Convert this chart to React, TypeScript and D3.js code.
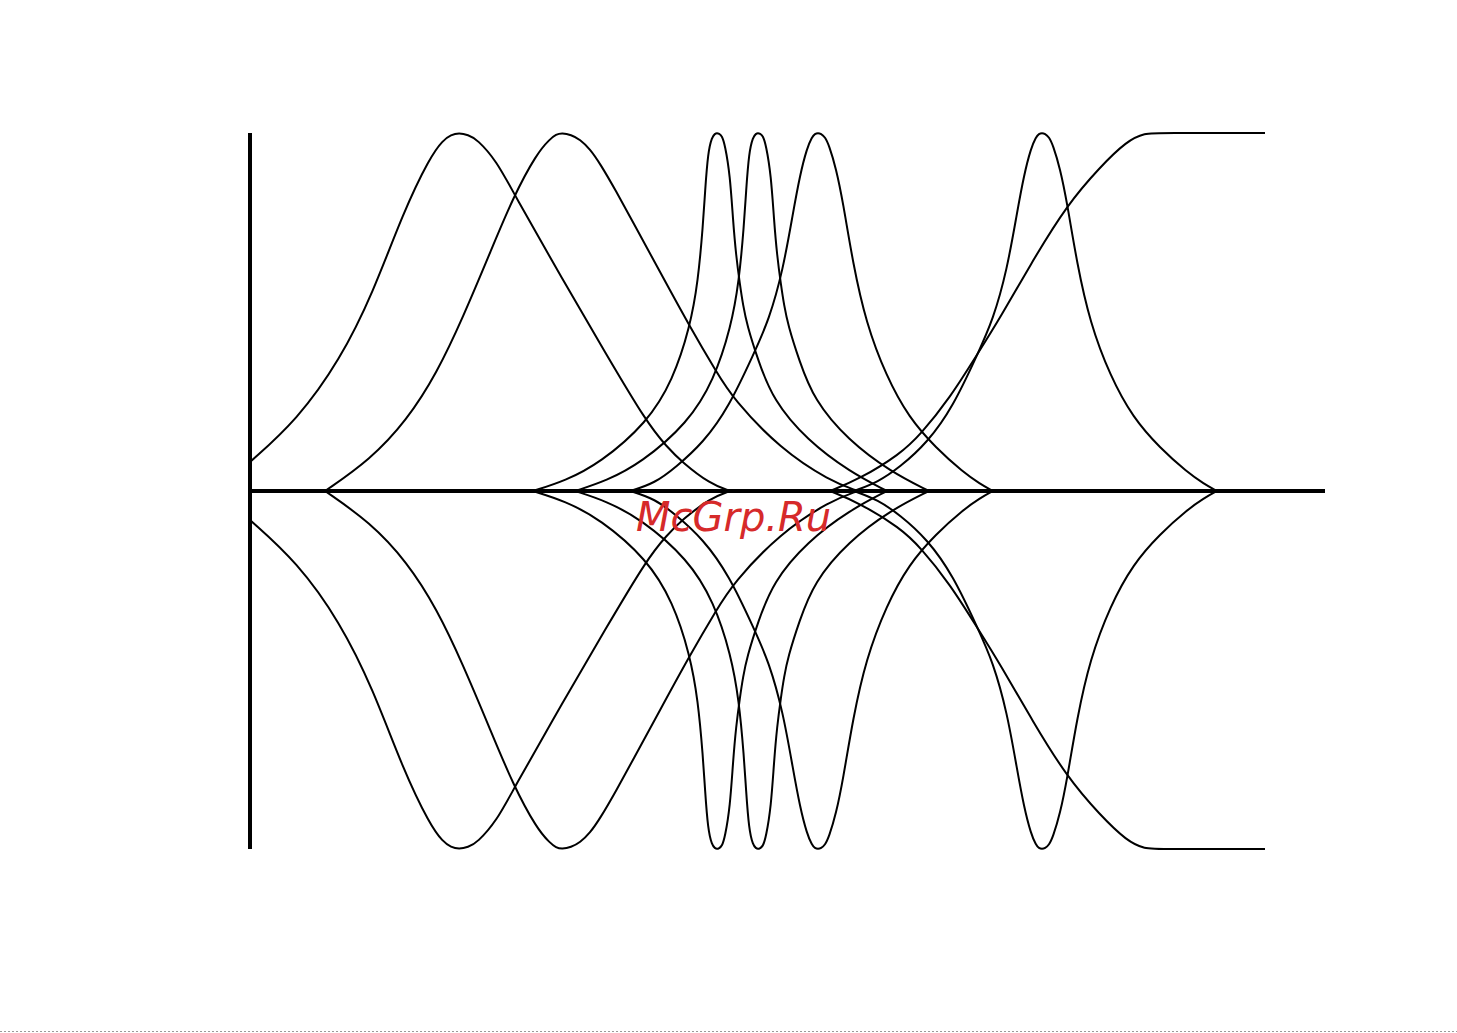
import React from "react";
import * as d3 from "d3";

// x: position along the axis, y: membership degree (0..1); lower half is the mirror image
const curveA: [number, number][] = [
  [0, 0.081], [47, 0.198], [90, 0.366], [123, 0.553], [153, 0.777], [180, 0.933], [193, 0.98],
  [201, 0.995], [209, 1], [218, 0.995], [227, 0.983], [247, 0.92], [263, 0.835], [313, 0.589],
  [355, 0.388], [397, 0.19], [417, 0.123], [432, 0.081], [460, 0.02], [480, 0],
];
const curveB: [number, number][] = [
  [75, 0], [120, 0.087], [157, 0.198], [187, 0.33], [213, 0.485], [240, 0.665], [263, 0.82],
  [287, 0.944], [300, 0.983], [306, 0.996], [312, 1], [321, 0.995], [330, 0.982], [340, 0.955],
  [350, 0.915], [366, 0.838], [383, 0.751], [410, 0.612], [440, 0.458], [467, 0.33], [483, 0.258],
  [530, 0.118], [580, 0.028], [608, 0],
];
const curveC: [number, number][] = [
  [283, 0], [315, 0.028], [350, 0.078], [397, 0.19], [423, 0.31], [440, 0.458], [448, 0.584],
  [453, 0.743], [455, 0.835], [458, 0.947], [462, 0.989], [465, 0.998], [467, 1], [469, 0.998],
  [472, 0.992], [475, 0.966], [480, 0.883], [483, 0.757], [486, 0.659], [490, 0.575], [493, 0.52],
  [497, 0.464], [508, 0.366], [523, 0.254], [557, 0.142], [600, 0.053], [637, 0],
];
const curveD: [number, number][] = [
  [325, 0], [356, 0.028], [391, 0.078], [438, 0.19], [464, 0.31], [481, 0.458], [489, 0.584],
  [494, 0.743], [496, 0.835], [499, 0.947], [503, 0.989], [506, 0.998], [508, 1], [510, 0.998],
  [513, 0.992], [516, 0.966], [521, 0.883], [524, 0.757], [527, 0.659], [531, 0.575], [534, 0.52],
  [538, 0.464], [549, 0.366], [564, 0.254], [598, 0.142], [641, 0.053], [679, 0],
];
const curveE: [number, number][] = [
  [380, 0], [405, 0.022], [426, 0.067], [453, 0.134], [479, 0.235], [504, 0.385], [519, 0.478],
  [533, 0.617], [543, 0.777], [550, 0.883], [557, 0.958], [562, 0.989], [565, 0.998], [568, 1],
  [571, 0.998], [575, 0.989], [579, 0.966], [586, 0.902], [593, 0.807], [603, 0.635], [616, 0.47],
  [636, 0.322], [659, 0.204], [686, 0.12], [713, 0.053], [730, 0.02], [743, 0],
];
const curveF: [number, number][] = [
  [604, 0], [628, 0.025], [650, 0.067], [677, 0.134], [703, 0.235], [728, 0.385], [743, 0.478],
  [757, 0.617], [767, 0.777], [774, 0.883], [781, 0.958], [786, 0.989], [789, 0.998], [792, 1],
  [795, 0.998], [799, 0.989], [803, 0.966], [810, 0.902], [817, 0.807], [827, 0.635], [840, 0.47],
  [860, 0.322], [883, 0.204], [910, 0.12], [937, 0.053], [954, 0.02], [967, 0],
];
const curveG: [number, number][] = [
  [580, 0], [610, 0.034], [650, 0.103], [670, 0.156], [700, 0.26], [728, 0.385], [750, 0.483],
  [783, 0.645], [817, 0.799], [850, 0.905], [877, 0.978], [895, 1], [910, 1], [1015, 1],
];

const allCurves = [curveA, curveB, curveC, curveD, curveE, curveF, curveG];
const signs = [1, -1];

const W = 1457;
const H = 1033;

export default function App() {
  const x = d3.scaleLinear().domain([0, 1075]).range([250, 1325]);
  const y = d3.scaleLinear().domain([-1, 1]).range([849, 133]);

  const paths: { d: string; key: string }[] = [];
  allCurves.forEach((c, i) => {
    signs.forEach((s) => {
      const line = d3
        .line<[number, number]>()
        .x((p) => x(p[0]))
        .y((p) => y(s * p[1]))
        .curve(d3.curveBasis);
      paths.push({ d: line(c) || "", key: `${i}-${s}` });
    });
  });

  return (
    <svg
      width={W}
      height={H}
      style={{ position: "absolute", left: 0, top: 0, background: "#fff" }}
    >
      {paths.map((p) => (
        <path key={p.key} d={p.d} fill="none" stroke="#000" strokeWidth={2} />
      ))}
      <line x1={x(0)} x2={x(0)} y1={y(1)} y2={y(-1)} stroke="#000" strokeWidth={4} />
      <line x1={x(0)} x2={x(1075)} y1={y(0)} y2={y(0)} stroke="#000" strokeWidth={4} />
      <line x1={0} x2={W} y1={1031.5} y2={1031.5} stroke="#9a9a9a" strokeWidth={1} strokeDasharray="2,2" />
      <text
        x={636}
        y={531}
        fontFamily="DejaVu Sans"
        fontStyle="italic"
        fontSize={40}
        fill="#d62a2a"
      >
        McGrp.Ru
      </text>
    </svg>
  );
}
